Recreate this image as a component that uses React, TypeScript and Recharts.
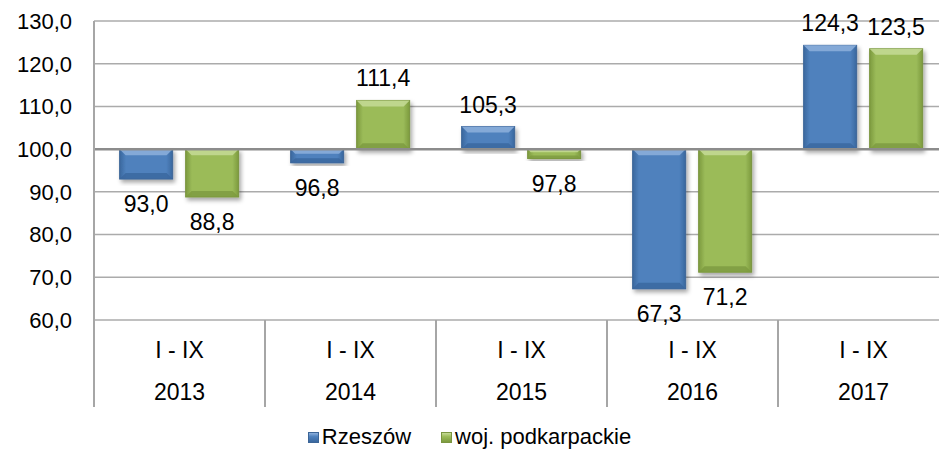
import React from 'react';
import { BarChart, Bar, XAxis, YAxis, CartesianGrid, ReferenceLine, Legend, LabelList } from 'recharts';

const periods = ['I - IX', 'I - IX', 'I - IX', 'I - IX', 'I - IX'];
const years = ['2013', '2014', '2015', '2016', '2017'];
const rzeszow = [93.0, 96.8, 105.3, 67.3, 124.3];
const podkarpackie = [88.8, 111.4, 97.8, 71.2, 123.5];
const yTicks = [60, 70, 80, 90, 100, 110, 120, 130];
const BASE = 100;
const seriesNames = ['Rzeszów', 'woj. podkarpackie'];

const data = years.map((y, i) => ({ year: y, period: periods[i], r: rzeszow[i], p: podkarpackie[i] }));

const FONT = '"Liberation Sans", Arial, sans-serif';
const CHART_W = 960;
const CHART_H = 454;
const LEFT = 94;
const RIGHT_M = 11;
const TOP_M = 21;
const XAXIS_H = 90;
const LEGEND_H = 44;
const BAND = (CHART_W - LEFT - RIGHT_M) / years.length;

const SERIES = [
  { key: 'r', name: seriesNames[0], id: 'blue', main: '#4F81BD', dark: '#3A679E', light: '#8DB0DC', edge: '#3C6597' },
  { key: 'p', name: seriesNames[1], id: 'green', main: '#9BBB59', dark: '#7C9A3E', light: '#C6DA97', edge: '#7A9540' },
];

const fmt = (v: number) => v.toFixed(1).replace('.', ',');

const makeShape = (c: any) => (props: any) => {
  const { x, y, width, height } = props;
  if (x == null || y == null) return null;
  const top = Math.min(y, y + height);
  const h = Math.abs(height);
  const b = Math.min(6, h / 3);
  return (
    <g filter="url(#barShadow)">
      <rect x={x} y={top} width={width} height={h} fill={`url(#grad-${c.id})`} stroke={c.edge} strokeWidth={1} />
      <polygon
        points={`${x},${top} ${x + width},${top} ${x + width - b},${top + b} ${x + b},${top + b}`}
        fill={c.light}
        opacity={0.85}
      />
      <polygon
        points={`${x},${top + h} ${x + width},${top + h} ${x + width - b},${top + h - b} ${x + b},${top + h - b}`}
        fill={c.dark}
        opacity={0.8}
      />
    </g>
  );
};

const ValueLabel = (props: any) => {
  const { x, y, width, height, value } = props;
  const v = Number(value);
  const top = Math.min(y, y + height);
  const bottom = Math.max(y, y + height);
  const cy = v >= BASE ? top - 22 : bottom + 25;
  return (
    <text x={x + width / 2} y={cy + 8} textAnchor="middle" fontSize={23} fontFamily={FONT} fill="#000">
      {fmt(v)}
    </text>
  );
};

const XTick = (props: any) => {
  const { x, y, index, payload } = props;
  const i = index ?? 0;
  const left = x - BAND / 2;
  const right = x + BAND / 2;
  return (
    <g>
      <line x1={left} x2={left} y1={y} y2={y + 87} stroke="#A6A6A6" strokeWidth={2} />
      {i === years.length - 1 && <line x1={right} x2={right} y1={y} y2={y + 87} stroke="#A6A6A6" strokeWidth={2} />}
      <text x={x} y={y + 38} textAnchor="middle" fontSize={23} fontFamily={FONT} fill="#000">
        {periods[i]}
      </text>
      <text x={x} y={y + 80} textAnchor="middle" fontSize={23} fontFamily={FONT} fill="#000">
        {payload.value}
      </text>
    </g>
  );
};

const LegendContent = () => (
  <div
    style={{
      display: 'flex',
      justifyContent: 'center',
      alignItems: 'center',
      height: LEGEND_H,
      boxSizing: 'border-box',
      paddingTop: 10,
      fontFamily: FONT,
      fontSize: 22,
      color: '#000',
    }}
  >
    {SERIES.map((s, i) => (
      <span key={s.key} style={{ display: 'flex', alignItems: 'center', marginRight: i === 0 ? 30 : 0 }}>
        <span
          style={{
            width: 11,
            height: 11,
            background: `linear-gradient(180deg, ${s.light}, ${s.main} 40%, ${s.dark})`,
            border: `1px solid ${s.edge}`,
            marginRight: 3,
            boxSizing: 'border-box',
          }}
        />
        {s.name}
      </span>
    ))}
  </div>
);

export default function App() {
  return (
    <div style={{ position: 'absolute', left: 0, top: 0, width: 939, height: 454, overflow: 'hidden', background: '#fff' }}>
      <svg width={0} height={0} style={{ position: 'absolute' }}>
        <defs>
          {SERIES.map((s) => (
            <linearGradient key={s.id} id={`grad-${s.id}`} x1="0" y1="0" x2="1" y2="0">
              <stop offset="0%" stopColor={s.dark} />
              <stop offset="12%" stopColor={s.main} />
              <stop offset="88%" stopColor={s.main} />
              <stop offset="100%" stopColor={s.dark} />
            </linearGradient>
          ))}
          <filter id="barShadow" x="-20%" y="-20%" width="140%" height="140%">
            <feDropShadow dx="2" dy="3" stdDeviation="2" floodColor="#000" floodOpacity="0.35" />
          </filter>
        </defs>
      </svg>
      <BarChart
        width={CHART_W}
        height={CHART_H}
        data={data}
        margin={{ top: TOP_M, right: RIGHT_M, left: 0, bottom: 0 }}
        barCategoryGap="15%"
        barGap={13}
      >
        <CartesianGrid horizontal vertical={false} stroke="#ABABAB" strokeWidth={1.5} />
        <XAxis
          dataKey="year"
          height={XAXIS_H}
          axisLine={false}
          tickLine={false}
          tickSize={0}
          tickMargin={0}
          interval={0}
          tick={<XTick />}
        />
        <YAxis
          width={LEFT}
          domain={[60, 130]}
          ticks={yTicks}
          allowDataOverflow
          tickFormatter={(v: number) => fmt(v)}
          tick={{ fontSize: 22, fill: '#000', fontFamily: FONT }}
          tickLine={false}
          tickSize={0}
          tickMargin={22}
          axisLine={{ stroke: '#A6A6A6', strokeWidth: 2 }}
        />
        <ReferenceLine y={BASE} stroke="#8C8C8C" strokeWidth={2.5} />
        <Legend
          verticalAlign="bottom"
          content={<LegendContent />}
          wrapperStyle={{ left: 0, width: 939, height: LEGEND_H }}
        />
        {SERIES.map((s) => (
          <Bar
            key={s.key}
            name={s.name}
            dataKey={(d: any) => [BASE, d[s.key]]}
            fill={s.main}
            shape={makeShape(s)}
            isAnimationActive={false}
          >
            <LabelList dataKey={s.key} content={<ValueLabel />} />
          </Bar>
        ))}
      </BarChart>
    </div>
  );
}
